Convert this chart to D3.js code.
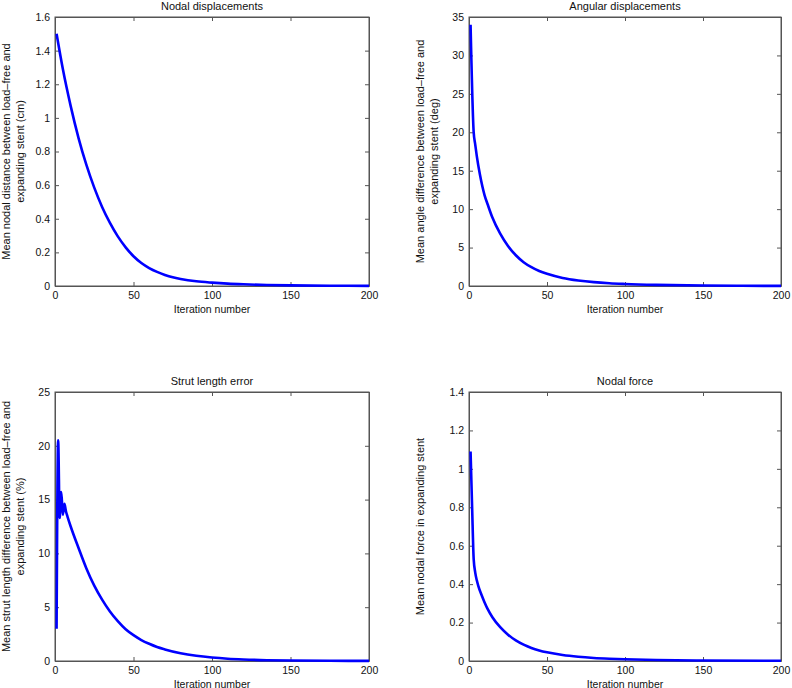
<!DOCTYPE html>
<html><head><meta charset="utf-8">
<script src="https://cdn.jsdelivr.net/npm/d3@7"></script>
<style>
body{margin:0;background:#fff;}
text{font-family:"Liberation Sans",Arial,Helvetica,sans-serif;fill:#111;}
</style></head>
<body><svg id="c" width="792" height="688"></svg>
<script>
// Data
const dispIter = [1,5,10,15,20,25,30,35,40,45,50,55,60,65,70,75,80,90,100,110,120,135,150,175,200];
const dispVals = [1.5,1.29,1.07,0.88,0.72,0.585,0.47,0.375,0.295,0.23,0.177,0.137,0.107,0.084,0.066,0.052,0.042,0.028,0.02,0.014,0.01,0.006,0.0035,0.0015,0.0008];

const angIter = [1,3,4,5,7,10,12,15,20,25,30,35,40,45,50,60,70,80,90,100,120,150,175,200];
const angVals = [34,20,18.4,16.9,14.5,11.8,10.6,8.9,6.8,5.2,4.0,3.1,2.45,1.95,1.58,1.05,0.72,0.5,0.36,0.27,0.15,0.06,0.03,0.015];

const strutIter = [1,2,3,4,5,6,7,8,10,15,20,25,30,35,40,45,50,55,60,65,70,80,90,100,110,120,135,150,175,200];
const strutVals = [3,20.5,13.3,15.7,13.6,14.6,13.9,13.4,12.5,10.5,8.6,7.0,5.7,4.6,3.7,2.95,2.4,1.95,1.6,1.3,1.08,0.72,0.48,0.32,0.21,0.14,0.075,0.04,0.02,0.01];

const forceIter = [1,2,3,4,5,6,8,10,12,15,20,25,30,35,40,45,50,60,70,80,90,100,120,150,200];
const forceVals = [1.09,0.80,0.53,0.46,0.42,0.39,0.345,0.305,0.27,0.228,0.176,0.137,0.107,0.085,0.068,0.055,0.045,0.031,0.022,0.016,0.012,0.009,0.005,0.0025,0.001];

const xTicks = [0,50,100,150,200];
const dispTicks = [0,0.2,0.4,0.6,0.8,1,1.2,1.4,1.6];
const angTicks = [0,5,10,15,20,25,30,35];
const strutTicks = [0,5,10,15,20,25];
const forceTicks = [0,0.2,0.4,0.6,0.8,1,1.2,1.4];

const panels = [
  {title:"Nodal displacements", it:dispIter, v:dispVals, ticks:dispTicks, ymax:1.6,
   ylab:["Mean nodal distance between load\u2013free and","expanding stent (cm)"],
   x0:55, x1:369, y0:17, y1:286, labX:[6,20]},
  {title:"Angular displacements", it:angIter, v:angVals, ticks:angTicks, ymax:35,
   ylab:["Mean angle difference between load\u2013free and","expanding stent (deg)"],
   x0:469, x1:781, y0:17, y1:286, labX:[420,434]},
  {title:"Strut length error", it:strutIter, v:strutVals, ticks:strutTicks, ymax:25,
   ylab:["Mean strut length difference between load\u2013free and","expanding stent (%)"],
   x0:55, x1:369, y0:392, y1:661, labX:[6,20]},
  {title:"Nodal force", it:forceIter, v:forceVals, ticks:forceTicks, ymax:1.4,
   ylab:["Mean nodal force in expanding stent"],
   x0:469, x1:781, y0:392, y1:661, labX:[420]}
];

const svg = d3.select("#c");
const axCol = "#555";

panels.forEach(p => {
  const x = d3.scaleLinear().domain([0,200]).range([p.x0,p.x1]);
  const y = d3.scaleLinear().domain([0,p.ymax]).range([p.y1,p.y0]);
  const g = svg.append("g");
  const fmt = d => String(d);

  g.append("rect").attr("x",p.x0).attr("y",p.y0).attr("width",p.x1-p.x0).attr("height",p.y1-p.y0)
   .attr("fill","none").attr("stroke",axCol).attr("stroke-width",1);

  const tk = 4;
  g.append("g").attr("transform",`translate(0,${p.y1})`)
    .call(d3.axisBottom(x).tickValues(xTicks).tickFormat(fmt).tickSizeInner(-tk).tickSizeOuter(0).tickPadding(6));
  g.append("g").attr("transform",`translate(0,${p.y0})`)
    .call(d3.axisTop(x).tickValues(xTicks).tickFormat("").tickSizeInner(-tk).tickSizeOuter(0));
  g.append("g").attr("transform",`translate(${p.x0},0)`)
    .call(d3.axisLeft(y).tickValues(p.ticks).tickFormat(fmt).tickSizeInner(-tk).tickSizeOuter(0).tickPadding(5));
  g.append("g").attr("transform",`translate(${p.x1},0)`)
    .call(d3.axisRight(y).tickValues(p.ticks).tickFormat("").tickSizeInner(-tk).tickSizeOuter(0));

  g.selectAll(".domain").attr("stroke",axCol);
  g.selectAll(".tick line").attr("stroke",axCol);
  g.selectAll(".tick text").attr("font-size",10.5).attr("fill","#111")
    .attr("font-family",'"Liberation Sans",Arial,sans-serif');

  const pts = p.it.map((d,i)=>[d,p.v[i]]);
  g.append("path").datum(pts)
    .attr("fill","none").attr("stroke","#0000ff").attr("stroke-width",2.6)
    .attr("stroke-linejoin","round")
    .attr("d", d3.line().x(d=>x(d[0])).y(d=>y(d[1])).curve(d3.curveMonotoneX));

  g.append("text").attr("x",(p.x0+p.x1)/2).attr("y",p.y0-7).attr("text-anchor","middle")
    .attr("font-size",11).text(p.title);
  g.append("text").attr("x",(p.x0+p.x1)/2).attr("y",p.y1+26.5).attr("text-anchor","middle")
    .attr("font-size",10.5).text("Iteration number");
  const cy = (p.y0+p.y1)/2;
  p.ylab.forEach((l,i)=>{
    g.append("text").attr("transform",`translate(${p.labX[i]+4},${cy}) rotate(-90)`)
      .attr("text-anchor","middle").attr("font-size",11).text(l);
  });
});
</script></body></html>
